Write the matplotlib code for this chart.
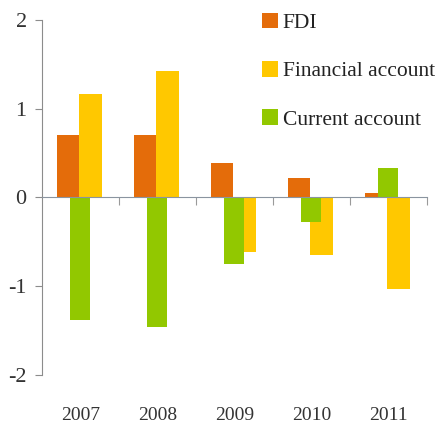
import matplotlib
matplotlib.use("Agg")
import matplotlib.pyplot as plt
import numpy as np

# data
years = ["2007", "2008", "2009", "2010", "2011"]
fdi = [0.70, 0.70, 0.39, 0.22, 0.05]
financial = [1.16, 1.43, -0.62, -0.65, -1.03]
current = [-1.38, -1.46, -0.75, -0.28, 0.33]

plt.rcParams['font.family'] = ['Liberation Serif', 'DejaVu Serif']

fig = plt.figure(figsize=(4.42, 4.33), dpi=100)
ax = fig.add_axes([0.095, 0.134, 0.871, 0.820])

x = np.arange(len(years))
b1 = ax.bar(x - 0.16, fdi, width=0.28, color='#E46C0A', label='FDI', zorder=2)
b2 = ax.bar(x + 0.13, financial, width=0.30, color='#FFC800', label='Financial account', zorder=3)
b3 = ax.bar(x, current, width=0.26, color='#92C800', label='Current account', zorder=4)

ax.set_xlim(-0.5, 4.5)
ax.set_ylim(-2, 2)

# zero line acts as the category axis
ax.spines['top'].set_visible(False)
ax.spines['right'].set_visible(False)
ax.spines['bottom'].set_position(('data', 0))
ax.spines['bottom'].set_color('#8a94a0')
ax.spines['bottom'].set_zorder(5)
ax.spines['left'].set_color('#8c8c8c')

ax.set_xticks(x + 0.5)
ax.set_xticklabels([])
ax.tick_params(axis='x', direction='out', length=6, color='#9a9a9a')
ax.set_yticks([-2, -1, 0, 1, 2])
ax.set_yticklabels(['-2', '-1', '0', '1', '2'])
ax.tick_params(axis='y', direction='out', length=5, color='#8c8c8c', pad=6,
               labelsize=16, labelcolor='#333333')

for xi, yr in zip(x, years):
    ax.text(xi, -0.113, yr, transform=ax.get_xaxis_transform(),
            ha='center', va='center', fontsize=14, color='#333333')

ax.legend(handles=[b1, b2, b3], loc='upper left', bbox_to_anchor=(0.55, 1.045),
          frameon=False, fontsize=15.5, handlelength=0.75, handleheight=0.75,
          handletextpad=0.2, labelspacing=1.3, borderaxespad=0,
          labelcolor='#222222')

fig.savefig("out.png", dpi=100)
